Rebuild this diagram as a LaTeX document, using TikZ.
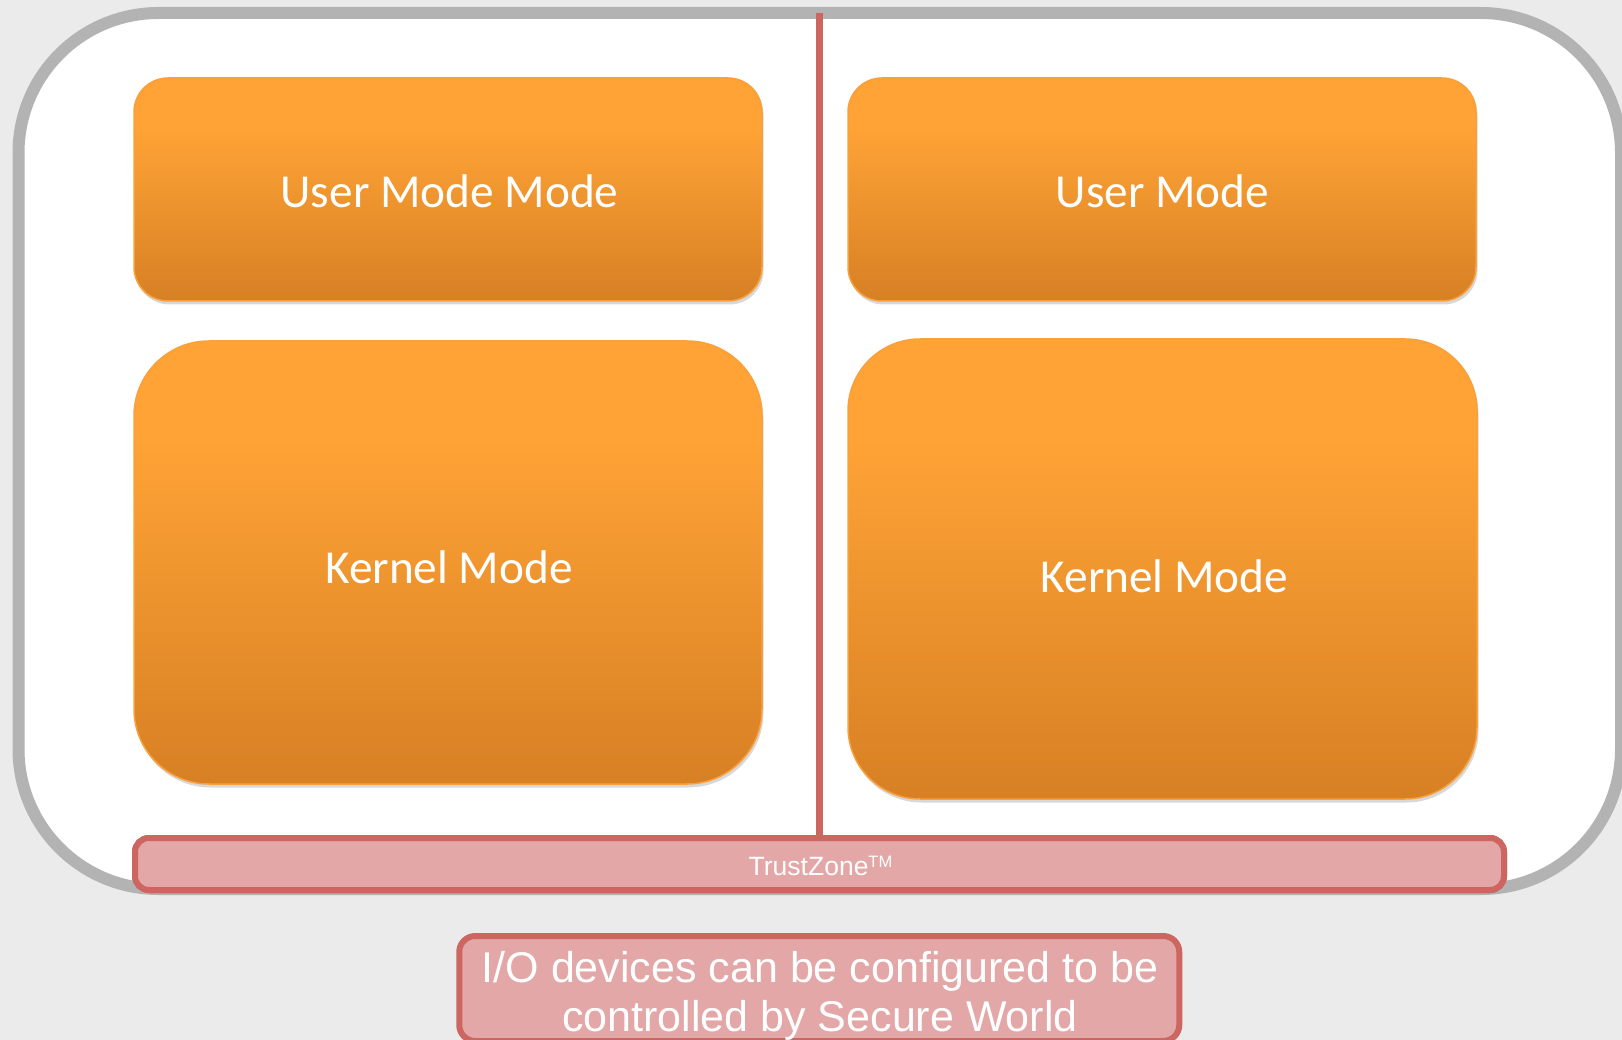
\documentclass[tikz,border=0pt]{standalone}
\usepackage{fontspec}
\setmainfont{Liberation Sans}
\newfontfamily\carlito{Carlito}
\usetikzlibrary{shadows}
\definecolor{bgc}{HTML}{EBEBEB}
\definecolor{framegray}{HTML}{B3B3B3}
\definecolor{oratop}{HTML}{FFA336}
\definecolor{orabot}{HTML}{D78024}
\definecolor{oraedge}{HTML}{F9A03C}
\definecolor{tzfill}{HTML}{E2A7A6}
\definecolor{tzline}{HTML}{CD6660}
\pgfdeclareverticalshading{orangeshade}{100bp}{color(0bp)=(orabot); color(25bp)=(orabot); color(64bp)=(oratop); color(75bp)=(oratop); color(100bp)=(oratop)}
\tikzset{
  frame/.style={draw=framegray, line width=12pt, fill=white, rounded corners=140pt,
    inner sep=0pt, outer sep=0pt,
    drop shadow={shadow xshift=2pt, shadow yshift=-4pt, opacity=0.35, fill=black!70}},
  modebox/.style={draw=oraedge, line width=1.5pt, shading=orangeshade,
    inner sep=0pt, outer sep=0pt,
    drop shadow={shadow xshift=1.5pt, shadow yshift=-3.5pt, opacity=0.25, fill=black!60}},
  modetext/.style={text=white, font=\carlito\fontsize{47.3}{56}\selectfont, anchor=base, inner sep=0pt},
  redbox/.style={draw=tzline, fill=tzfill, line width=6pt, rounded corners=14pt,
    inner sep=0pt, outer sep=0pt},
  tzshadow/.style={drop shadow={shadow xshift=1pt, shadow yshift=-3pt, opacity=0.3, fill=black!60}},
  vline/.style={draw=tzline, line width=7pt},
  iotext/.style={text=white, font=\fontsize{43}{49}\selectfont, anchor=base, inner sep=0pt},
  tztext/.style={text=white, font=\fontsize{26.5}{30}\selectfont, anchor=base, inner sep=0pt}
}
\begin{document}
\begin{tikzpicture}[x=1pt,y=-1pt]
  \fill[bgc] (0,0) rectangle (1622,1040);
  \useasboundingbox (0,0) rectangle (1622,1040);

  % outer frame
  \node[frame, minimum width=1602.5pt, minimum height=876pt] (outer) at (819.75,451) {};

  % dividing line
  \coordinate (vtop) at (819.5,13);

  % mode boxes
  \node[modebox, rounded corners=34pt, minimum width=628pt, minimum height=223pt] (u1) at (448,189.5) {};
  \node[modebox, rounded corners=34pt, minimum width=628pt, minimum height=223pt] (u2) at (1162,189.5) {};
  \node[modebox, rounded corners=75pt, minimum width=628pt, minimum height=443pt] (k1) at (448,562.5) {};
  \node[modebox, rounded corners=72pt, minimum width=629pt, minimum height=460pt] (k2) at (1162.5,569) {};

  \node[modetext] (u1t) at (449.5,208) {User Mode Mode};
  \node[modetext] (u2t) at (1162.5,208) {User Mode};
  \node[modetext] (k1t) at (449,583) {Kernel Mode};
  \node[modetext] (k2t) at (1164.5,592) {Kernel Mode};

  % TrustZone bar
  \node[redbox, tzshadow, minimum width=1369pt, minimum height=52pt] (tz) at (819.5,864) {};
  \draw[vline] (vtop) -- ([yshift=-1pt]tz.north);
  \node[redbox, minimum width=1369pt, minimum height=52pt] (tzb) at (819.5,864) {};
  \node[tztext] (tzt) at (820.5,875) {TrustZone\raisebox{7.5pt}{\fontsize{16.5}{18}\selectfont TM}};

  % I/O box
  \node[redbox, rounded corners=16pt, minimum width=720pt, minimum height=105pt] (io) at (819.25,988.5) {};
  \node[iotext] (iot1) at (820,982) {I/O devices can be configured to be};
  \node[iotext] (iot2) at (820,1031) {controlled by Secure World};
\end{tikzpicture}
\end{document}
